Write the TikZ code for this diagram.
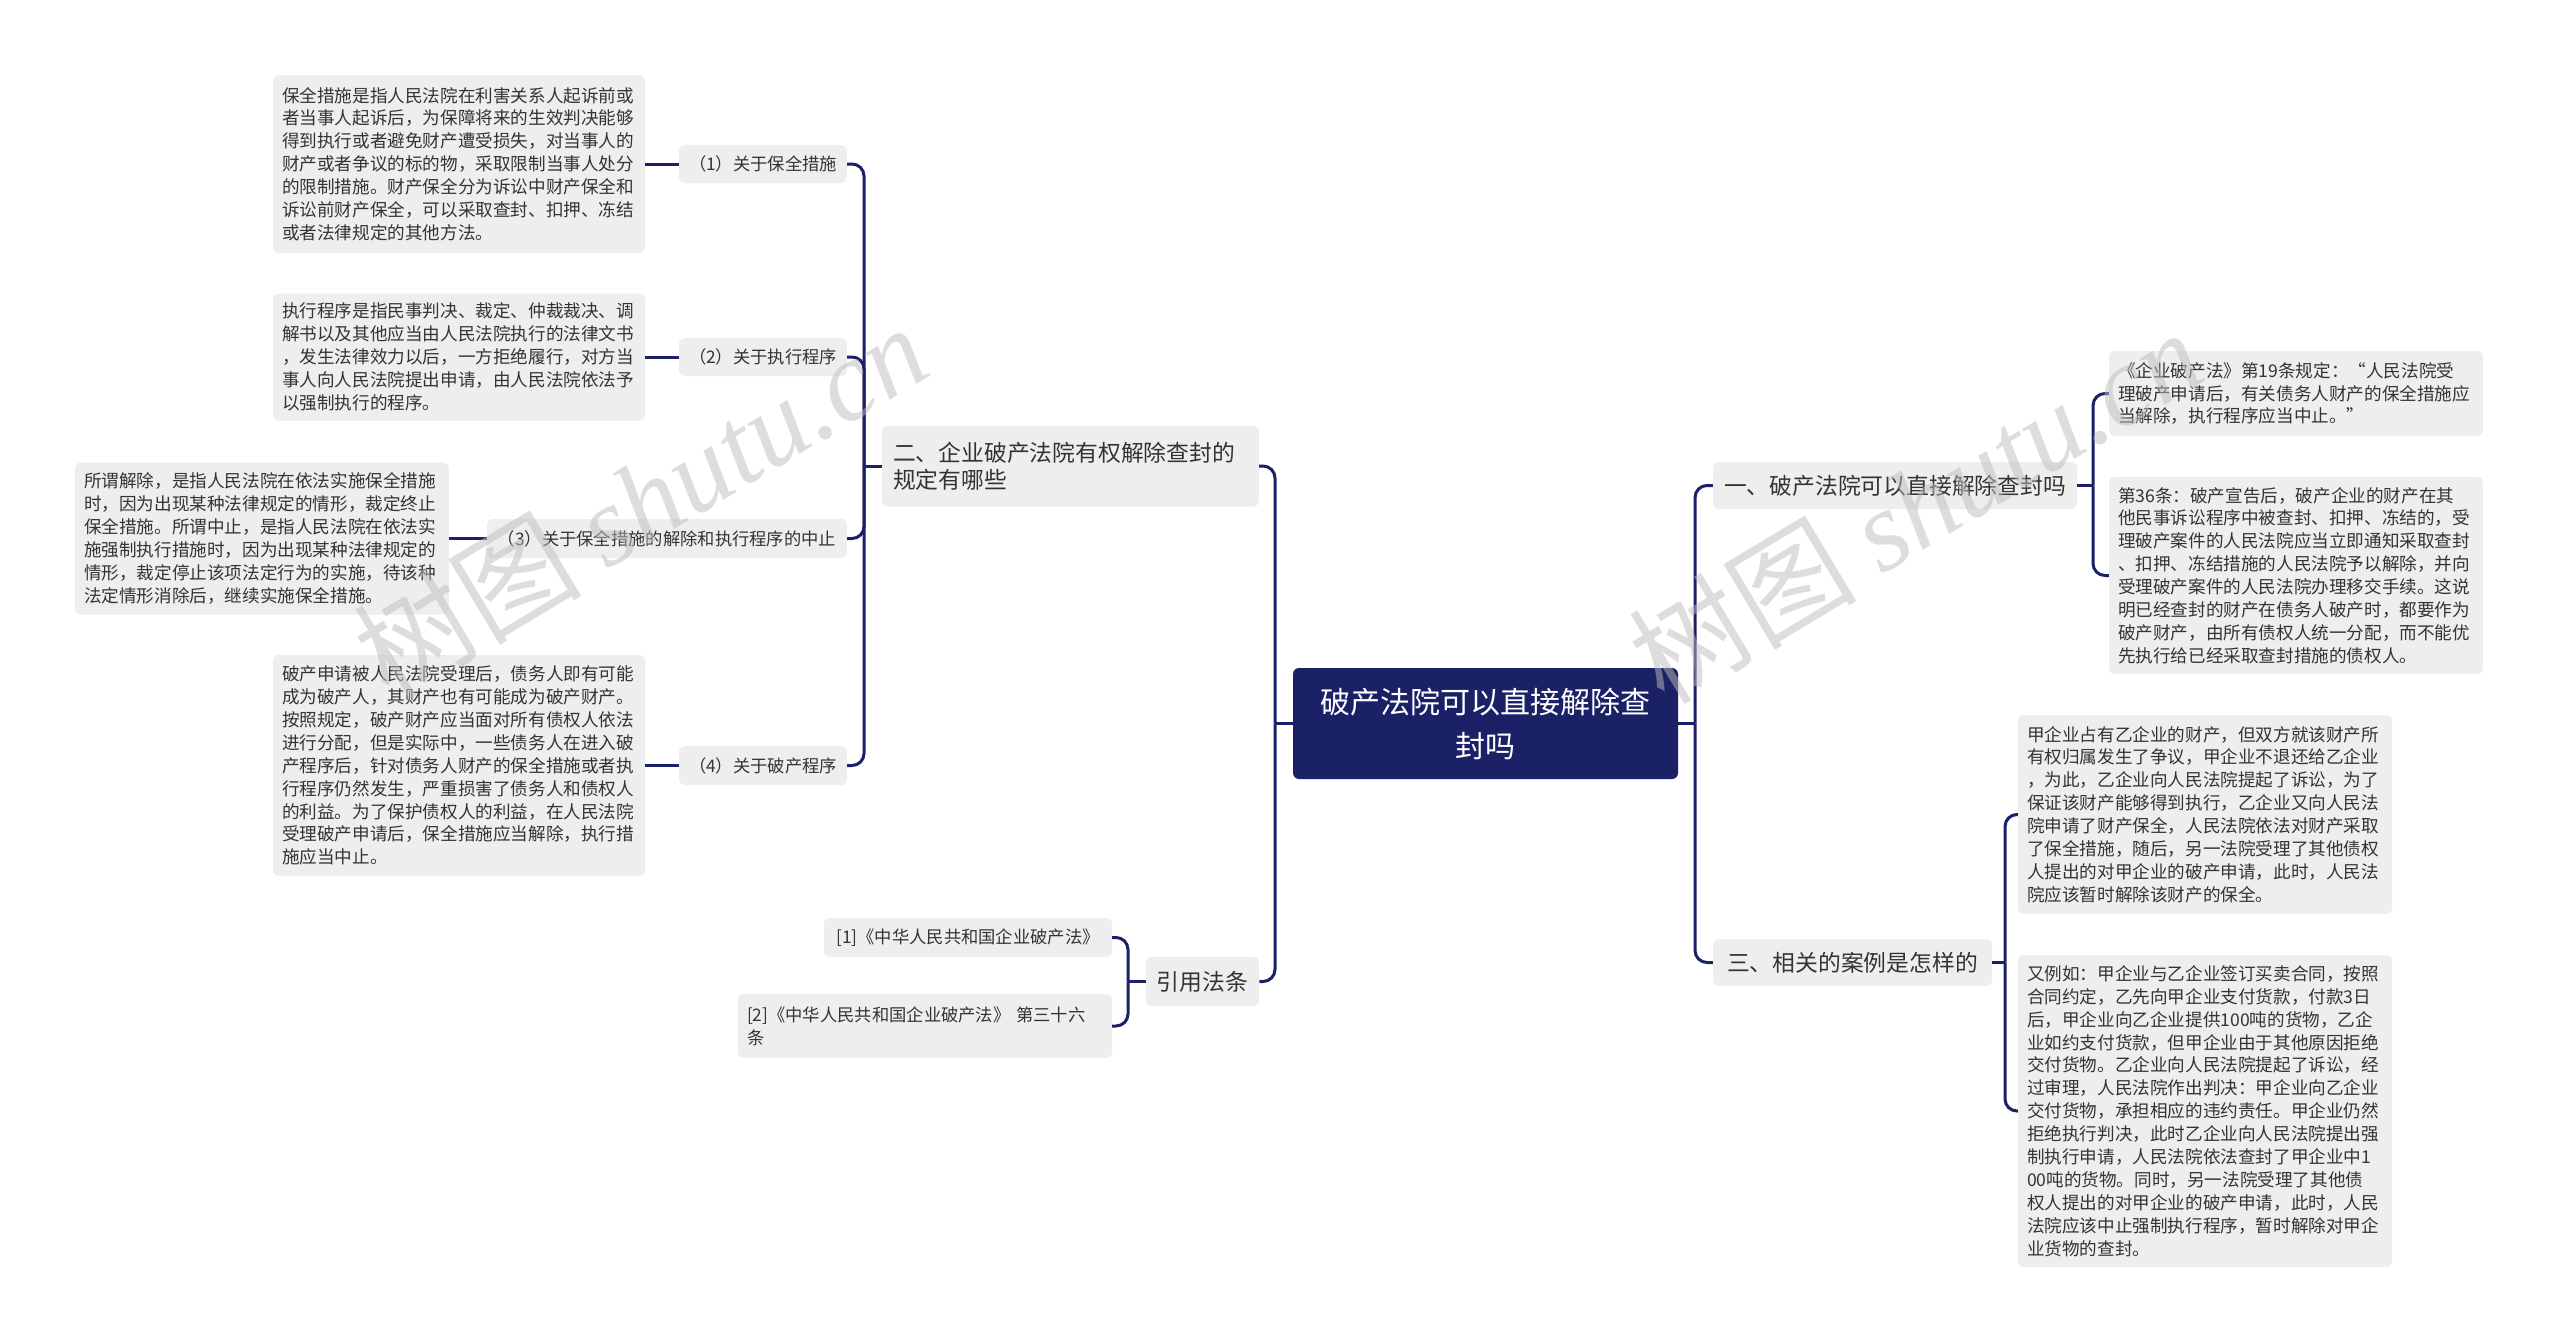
\documentclass[tikz,border=0pt]{standalone}
\usepackage{fontspec}
\setmainfont{Noto Sans CJK SC}
\newfontfamily\wmfont{Liberation Serif}
\usetikzlibrary{calc}
\definecolor{navy}{HTML}{1B2166}
\definecolor{boxgray}{HTML}{EEEEEE}
\definecolor{txt}{HTML}{333333}
\definecolor{wm}{HTML}{BDBDBD}
\begin{document}
\begin{tikzpicture}[x=1pt,y=-1pt,
  base/.style={fill=boxgray, rounded corners=6pt, text=txt, inner xsep=9pt, inner ysep=0pt},
  leaf/.style 2 args={base, font=\fontsize{17.6pt}{22.9pt}\selectfont, align=left, text width=#1, minimum height=#2},
  sub/.style 2 args={base, font=\fontsize{17.3pt}{22.9pt}\selectfont, align=left, minimum width=#1, minimum height=#2},
  branch/.style 2 args={base, font=\fontsize{22.8pt}{27pt}\selectfont, align=left, minimum width=#1, minimum height=#2, inner xsep=11pt},
  root/.style={fill=navy, rounded corners=6pt, text=white, font=\fontsize{30pt}{44pt}\selectfont, align=center, minimum width=385, minimum height=111, inner sep=0pt},
  conn/.style={draw=navy, line width=3pt, rounded corners=12pt},
  wmark/.style={text=wm, opacity=0.5, rotate=31, font=\fontsize{114pt}{120pt}\selectfont}
]
\useasboundingbox (0,0) rectangle (2560,1344);
\fill[white] (0,0) rectangle (2560,1344);

% root and branches
\node[root] (cen) at (1485.5,723.5) {破产法院可以直接解除查\\封吗};
\node[branch={377}{81}, text width=355pt] (two) at (1070.5,466) {二、企业破产法院有权解除查封的\\规定有哪些};
\node[branch={113}{49}] (cite) at (1202.5,981.5) {引用法条};
\node[branch={364}{47}] (one) at (1895,485.5) {一、破产法院可以直接解除查封吗};
\node[branch={279}{47}] (three) at (1852.5,962.5) {三、相关的案例是怎样的};

% sub-branches of two
\node[sub={168}{38}] (s1) at (763,164) {（1）关于保全措施};
\node[sub={168}{38}] (s2) at (763,357) {（2）关于执行程序};
\node[sub={360}{39}] (s3) at (667,538.5) {（3）关于保全措施的解除和执行程序的中止};
\node[sub={168}{39}] (s4) at (763,765.5) {（4）关于破产程序};

% leaves left
\node[leaf={354pt}{178}] (l1) at (459,164) {保全措施是指人民法院在利害关系人起诉前或\\者当事人起诉后，为保障将来的生效判决能够\\得到执行或者避免财产遭受损失，对当事人的\\财产或者争议的标的物，采取限制当事人处分\\的限制措施。财产保全分为诉讼中财产保全和\\诉讼前财产保全，可以采取查封、扣押、冻结\\或者法律规定的其他方法。};
\node[leaf={354pt}{127}] (l2) at (459,357) {执行程序是指民事判决、裁定、仲裁裁决、调\\解书以及其他应当由人民法院执行的法律文书\\，发生法律效力以后，一方拒绝履行，对方当\\事人向人民法院提出申请，由人民法院依法予\\以强制执行的程序。};
\node[leaf={356pt}{152}] (l3) at (262,538.5) {所谓解除，是指人民法院在依法实施保全措施\\时，因为出现某种法律规定的情形，裁定终止\\保全措施。所谓中止，是指人民法院在依法实\\施强制执行措施时，因为出现某种法律规定的\\情形，裁定停止该项法定行为的实施，待该种\\法定情形消除后，继续实施保全措施。};
\node[leaf={354pt}{221}] (l4) at (459,765.5) {破产申请被人民法院受理后，债务人即有可能\\成为破产人，其财产也有可能成为破产财产。\\按照规定，破产财产应当面对所有债权人依法\\进行分配，但是实际中，一些债务人在进入破\\产程序后，针对债务人财产的保全措施或者执\\行程序仍然发生，严重损害了债务人和债权人\\的利益。为了保护债权人的利益，在人民法院\\受理破产申请后，保全措施应当解除，执行措\\施应当中止。};

% citations
\node[sub={288}{39}] (c1) at (968,937.5) {[1]《中华人民共和国企业破产法》};
\node[leaf={356pt}{64}, font=\fontsize{17.3pt}{22.9pt}\selectfont] (c2) at (925,1026) {[2]《中华人民共和国企业破产法》 第三十六\\条};

% leaves right
\node[leaf={356pt}{85}] (r1) at (2296,393.5) {《企业破产法》第19条规定：“人民法院受\\理破产申请后，有关债务人财产的保全措施应\\当解除，执行程序应当中止。”};
\node[leaf={356pt}{197}] (r2) at (2296,575.5) {第36条：破产宣告后，破产企业的财产在其\\他民事诉讼程序中被查封、扣押、冻结的，受\\理破产案件的人民法院应当立即通知采取查封\\、扣押、冻结措施的人民法院予以解除，并向\\受理破产案件的人民法院办理移交手续。这说\\明已经查封的财产在债务人破产时，都要作为\\破产财产，由所有债权人统一分配，而不能优\\先执行给已经采取查封措施的债权人。};
\node[leaf={356pt}{199}] (r3) at (2205,814.5) {甲企业占有乙企业的财产，但双方就该财产所\\有权归属发生了争议，甲企业不退还给乙企业\\，为此，乙企业向人民法院提起了诉讼，为了\\保证该财产能够得到执行，乙企业又向人民法\\院申请了财产保全，人民法院依法对财产采取\\了保全措施，随后，另一法院受理了其他债权\\人提出的对甲企业的破产申请，此时，人民法\\院应该暂时解除该财产的保全。};
\node[leaf={356pt}{312}] (r4) at (2205,1111) {又例如：甲企业与乙企业签订买卖合同，按照\\合同约定，乙先向甲企业支付货款，付款3日\\后，甲企业向乙企业提供100吨的货物，乙企\\业如约支付货款，但甲企业由于其他原因拒绝\\交付货物。乙企业向人民法院提起了诉讼，经\\过审理，人民法院作出判决：甲企业向乙企业\\交付货物，承担相应的违约责任。甲企业仍然\\拒绝执行判决，此时乙企业向人民法院提出强\\制执行申请，人民法院依法查封了甲企业中1\\00吨的货物。同时，另一法院受理了其他债\\权人提出的对甲企业的破产申请，此时，人民\\法院应该中止强制执行程序，暂时解除对甲企\\业货物的查封。};

% connectors
\coordinate (jL) at (1275,723.5);
\draw[conn] (cen.west) -- (jL);
\draw[conn] (jL) |- (two.east);
\draw[conn] (jL) |- (cite.east);

\coordinate (jR) at (1695,723.5);
\draw[conn] (cen.east) -- (jR);
\draw[conn] (jR) |- (one.west);
\draw[conn] (jR) |- (three.west);

\coordinate (j2) at (864,466);
\draw[conn] (two.west) -- (j2);
\draw[conn] (j2) |- (s1.east);
\draw[conn] (j2) |- (s2.east);
\draw[conn] (j2) |- (s3.east);
\draw[conn] (j2) |- (s4.east);

\draw[conn] (s1.west) -- (l1.east);
\draw[conn] (s2.west) -- (l2.east);
\draw[conn] (s3.west) -- (l3.east);
\draw[conn] (s4.west) -- (l4.east);

\coordinate (jC) at (1128,981.5);
\draw[conn] (cite.west) -- (jC);
\draw[conn] (jC) |- (c1.east);
\draw[conn] (jC) |- (c2.east);

\coordinate (j1) at (2093,485.5);
\draw[conn] (one.east) -- (j1);
\draw[conn] (j1) |- (r1.west);
\draw[conn] (j1) |- (r2.west);

\coordinate (j3) at (2005,962.5);
\draw[conn] (three.east) -- (j3);
\draw[conn] (j3) |- (r3.west);
\draw[conn] (j3) |- (r4.west);

% watermarks
\node[wmark] (wm1) at (640,500) {树图 {\wmfont\itshape shutu.cn}};
\node[wmark] (wm2) at (1915,505) {树图 {\wmfont\itshape shutu.cn}};
\end{tikzpicture}
\end{document}
